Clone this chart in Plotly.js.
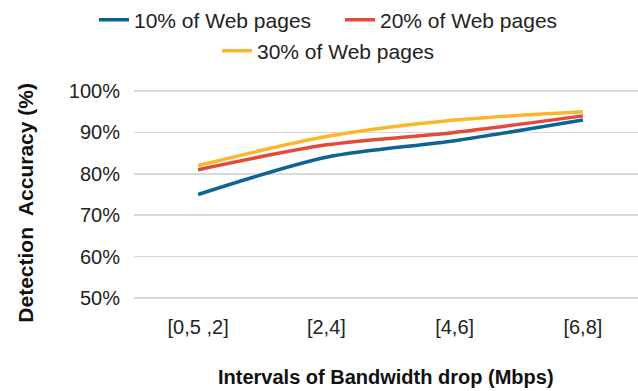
<!DOCTYPE html>
<html>
<head>
<meta charset="utf-8">
<script src="https://cdn.plot.ly/plotly-3.0.1.min.js"></script>
<style>
    body { margin: 0; background: #fff; }
    #chart { width: 638px; height: 391px; }
</style>
</head>
<body>
<div id="chart"></div>
<script>
const categories = ["[0,5 ,2]", "[2,4]", "[4,6]", "[6,8]"];
const seriesNames = ["10% of Web pages", "20% of Web pages", "30% of Web pages"];
const web10 = [75, 84, 88, 93];
const web20 = [81, 87, 90, 94];
const web30 = [82, 89, 93, 95];
const yTicks = [50, 60, 70, 80, 90, 100];

drawChart();

function drawChart() {
    const colors = ["#0d6392", "#e24a3b", "#fbb62c"];
    const values = [web10, web20, web30];
    const legends = ["legend", "legend", "legend2"];

    const chartData = values.map((v, i) => ({
        x: categories,
        y: v,
        type: "scatter",
        mode: "lines",
        name: seriesNames[i],
        legend: legends[i],
        line: { color: colors[i], width: 3.5, shape: "spline", smoothing: 0.8 },
    }));

    const layout = {
        width: 638,
        height: 391,
        margin: { l: 134, r: 0, t: 88.6, b: 90.6 },
        paper_bgcolor: "#fff",
        plot_bgcolor: "#fff",
        font: { family: "Liberation Sans, Arial, sans-serif", size: 20, color: "#222" },
        showlegend: true,
        legend: {
            orientation: "h",
            xref: "container",
            yref: "container",
            x: 94 / 638,
            xanchor: "left",
            y: 1 - 20 / 391,
            yanchor: "middle",
            entrywidth: 201,
            font: { family: "Liberation Sans, Arial, sans-serif", size: 21, color: "#222" },
            bgcolor: "rgba(0,0,0,0)",
        },
        legend2: {
            orientation: "h",
            xref: "container",
            yref: "container",
            x: 217 / 638,
            xanchor: "left",
            y: 1 - 51 / 391,
            yanchor: "middle",
            font: { family: "Liberation Sans, Arial, sans-serif", size: 21, color: "#222" },
            bgcolor: "rgba(0,0,0,0)",
        },
        xaxis: {
            type: "category",
            range: [-0.5, 3.43],
            showgrid: false,
            zeroline: false,
            showline: false,
            ticks: "",
            ticklabelstandoff: 13,
            tickfont: { size: 20 },
            fixedrange: true,
        },
        yaxis: {
            range: [49.5, 100.5],
            tickvals: yTicks,
            ticktext: yTicks.map(t => t + "%"),
            showgrid: true,
            gridcolor: "#d9d9d9",
            gridwidth: 1.5,
            zeroline: false,
            showline: false,
            ticks: "",
            ticklabelstandoff: 13,
            tickfont: { size: 20 },
            fixedrange: true,
        },
        annotations: [
            {
                text: "<b>Intervals of Bandwidth drop (Mbps)</b>",
                xref: "paper",
                yref: "paper",
                x: 0.5,
                y: -0.366,
                xanchor: "center",
                yanchor: "middle",
                showarrow: false,
                font: { size: 20, color: "#111" },
            },
            {
                text: "<b>Detection  Accuracy (%)</b>",
                xref: "paper",
                yref: "paper",
                x: -0.216,
                y: 0.462,
                xanchor: "center",
                yanchor: "middle",
                textangle: -90,
                showarrow: false,
                font: { size: 21, color: "#111" },
            },
        ],
    };

    Plotly.newPlot(document.getElementById("chart"), chartData, layout, { displayModeBar: false, staticPlot: true });
}
</script>
</body>
</html>
